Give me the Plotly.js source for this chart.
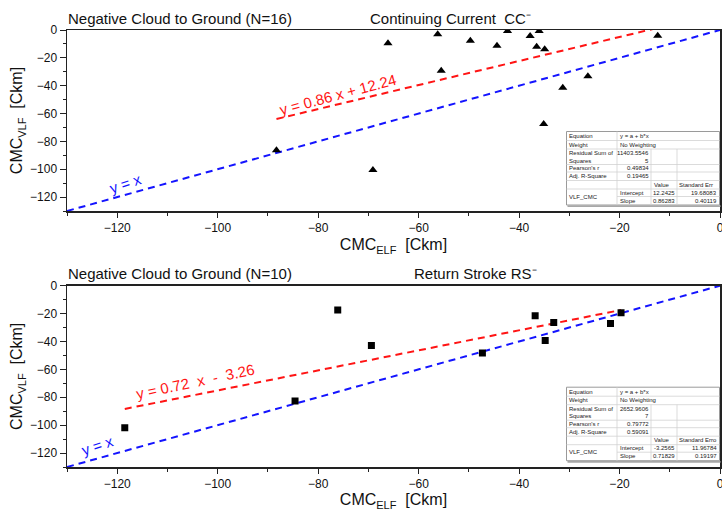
<!DOCTYPE html>
<html><head><meta charset="utf-8">
<script src="https://cdn.plot.ly/plotly-3.0.1.min.js"></script>
<style>html,body{margin:0;padding:0;background:#fff;} #chart{width:722px;height:511px;}</style>
</head><body><div id="chart"></div>
<script>
// ---------------- data ----------------
// Continuing current (N=16): CMC from ELF (x) vs CMC from VLF (y), Ckm
const ccElf = [-66.1, -56.2, -55.5, -49.7, -44.4, -42.3, -37.8, -36.0, -36.5, -34.9, -31.3, -26.3, -12.4, -35.1, -88.3, -69.1];
const ccVlf = [-9.6, -3.1, -29.3, -7.7, -11.3, -0.7, -4.3, -0.7, -12.0, -13.9, -41.5, -33.3, -4.1, -67.6, -86.3, -100.5];
// Return stroke (N=10)
const rsElf = [-76.1, -69.4, -47.3, -36.8, -34.8, -33.1, -21.8, -19.7, -118.5, -84.6];
const rsVlf = [-17.5, -42.9, -48.2, -21.6, -39.3, -26.3, -27.1, -19.4, -101.9, -82.7];
// linear fit parameters (from the fit tables)
const ccIntercept = 12.2425, ccSlope = 0.86283;
const rsIntercept = -3.2565, rsSlope = 0.71829;
// axis range shared by both panels (also the y = x reference line)
const axisRange = [-130, 0];
// text
const ccTitle = "Negative Cloud to Ground (N=16)";
const ccSubtitle = "Continuing Current\u00a0\u00a0CC\u207b";
const rsTitle = "Negative Cloud to Ground (N=10)";
const rsSubtitle = "Return Stroke RS\u207b";
const ccFitLabel = "y = 0.86 x + 12.24";
const rsFitLabel = "y =\u00a00.72\u00a0\u00a0x\u00a0\u00a0-\u00a0\u00a03.26";
const refLabel = "y = x";
const SUB = '<span style="font-size:11px;baseline-shift:-4px">';
const xTitle = "CMC" + SUB + "ELF</span>\u00a0\u00a0[Ckm]";
const yTitle = "CMC" + SUB + "VLF</span>\u00a0\u00a0[Ckm]";
// fit tables
const statNames = ["Equation", "Weight", "Residual Sum of", "Squares", "Pearson's r", "Adj. R-Square"];
const ccStats = ["y = a + b*x", "No Weighting", "11403.5546", "5", "0.49834", "0.19465"];
const rsStats = ["y = a + b*x", "No Weighting", "2652.9606", "7", "0.79772", "0.59091"];
const paramGroup = "VLF_CMC";
const paramNames = ["Intercept", "Slope"];
const ccHeads = ["Value", "Standard Err"];
const rsHeads = ["Value", "Standard Erro"];
const ccParamValue = ["12.2425", "0.86283"];
const ccParamErr = ["19.68083", "0.40119"];
const rsParamValue = ["-3.2565", "0.71829"];
const rsParamErr = ["11.96784", "0.19197"];

// ---------------- layout helpers ----------------
const FONT = "Liberation Sans, Arial, Helvetica, sans-serif";
const W = 722, H = 511, ML = 67, MR = 2, MT = 30, MB = 44;
const PW = W - ML - MR, PH = H - MT - MB;
const px = v => (v - ML) / PW;
const py = v => (H - MB - v) / PH;
const topBottomPx = 211, botTopPx = 285.7;
const RED = "rgb(255,20,20)", BLUE = "rgb(20,20,255)";
const DASH = "7px,5px";

function fitLine(xs, a, b) {
  const x0 = Math.min(...xs), x1 = Math.max(...xs);
  return {x: [x0, x1], y: [a + b * x0, a + b * x1]};
}

const ccFit = fitLine(ccElf, ccIntercept, ccSlope);
const rsFit = fitLine(rsElf, rsIntercept, rsSlope);

const traces = [
  {x: axisRange, y: axisRange, mode: "lines", line: {color: BLUE, width: 2, dash: DASH}, xaxis: "x", yaxis: "y", hoverinfo: "skip"},
  {x: ccFit.x, y: ccFit.y, mode: "lines", line: {color: RED, width: 2, dash: DASH}, xaxis: "x", yaxis: "y", hoverinfo: "skip"},
  {x: ccElf, y: ccVlf, mode: "markers", marker: {symbol: "triangle-up", size: 8, color: "#000"}, xaxis: "x", yaxis: "y"},
  {x: axisRange, y: axisRange, mode: "lines", line: {color: BLUE, width: 2, dash: DASH}, xaxis: "x2", yaxis: "y2", hoverinfo: "skip"},
  {x: rsFit.x, y: rsFit.y, mode: "lines", line: {color: RED, width: 2, dash: DASH}, xaxis: "x2", yaxis: "y2", hoverinfo: "skip"},
  {x: rsElf, y: rsVlf, mode: "markers", marker: {symbol: "square", size: 7, color: "#000"}, xaxis: "x2", yaxis: "y2"}
];

function axis(extra, len) {
  return Object.assign({
    range: axisRange, autorange: false, tickmode: "linear", tick0: 0, dtick: 20,
    ticks: "outside", ticklen: len, tickwidth: 1, tickcolor: "#222",
    minor: {ticks: "outside", ticklen: 3, dtick: 10, tick0: 0, tickcolor: "#222", tickwidth: 1},
    showline: true, linecolor: "#222", linewidth: 1.5, mirror: true,
    showgrid: false, zeroline: false, ticklabeloverflow: "allow",
    tickfont: {family: FONT, size: 12, color: "#111"}
  }, extra);
}

const shapes = [];
const annotations = [];

function txt(text, x, y, opts) {
  annotations.push(Object.assign({
    text: text, x: px(x), y: py(y), xref: "paper", yref: "paper",
    showarrow: false, xanchor: "left", yanchor: "middle",
    font: {family: FONT, size: 15, color: "#111"}
  }, opts || {}));
}

function hline(x0, x1, y, color, w) {
  shapes.push({type: "line", xref: "paper", yref: "paper", x0: px(x0), x1: px(x1), y0: py(y), y1: py(y), line: {color: color, width: w}});
}
function vline(x, y0, y1, color, w) {
  shapes.push({type: "line", xref: "paper", yref: "paper", x0: px(x), x1: px(x), y0: py(y0), y1: py(y1), line: {color: color, width: w}});
}

function fitTable(dy, stats, heads, vals, errs) {
  const X = [566.5, 617, 651, 677, 719.5];
  const Y = [131.5, 140.5, 149, 157, 164.5, 172, 180.5, 189, 196.5, 205].map(v => v + dy);
  const cy = i => (Y[i] + Y[i + 1]) / 2;
  shapes.push({type: "rect", xref: "paper", yref: "paper", x0: px(X[0]), x1: px(X[4]), y0: py(Y[0]), y1: py(Y[9]),
    fillcolor: "#fff", line: {color: "#9a9a9a", width: 1}});
  hline(X[0] + 1, X[4] + 1, Y[9] + 1.2, "#a8a8a8", 1.8);
  const g = "#d2d2d2";
  [1, 2, 4, 5, 6, 7].forEach(i => hline(X[0], X[4], Y[i], g, 0.8));
  hline(X[1], X[4], Y[8], g, 0.8);
  vline(X[1], Y[0], Y[9], g, 0.8);
  vline(X[2], Y[2], Y[9], g, 0.8);
  vline(X[3], Y[2], Y[9], g, 0.8);
  const f = {family: FONT, size: 6, color: "#222"};
  statNames.forEach((s, i) => txt(s, X[0] + 0.3, cy(i), {font: f}));
  txt(stats[0], X[1] + 0.5, cy(0), {font: f});
  txt(stats[1], X[1] + 0.5, cy(1), {font: f});
  for (let i = 2; i < 6; i++) txt(stats[i], X[2] - 0.3, cy(i), {font: f, xanchor: "right"});
  txt(heads[0], X[2] + 0.5, cy(6), {font: f});
  txt(heads[1], X[3] + 0.3, cy(6), {font: f});
  txt(paramGroup, X[0] + 0.5, Y[8], {font: f});
  paramNames.forEach((s, i) => {
    txt(s, X[1] + 0.5, cy(7 + i), {font: f});
    txt(vals[i], X[3] - 0.3, cy(7 + i), {font: f, xanchor: "right"});
    txt(errs[i], X[4] - 0.3, cy(7 + i), {font: f, xanchor: "right"});
  });
}

const dyBottom = botTopPx - MT;
fitTable(0, ccStats, ccHeads, ccParamValue, ccParamErr);
fitTable(dyBottom, rsStats, rsHeads, rsParamValue, rsParamErr);

// titles
txt(ccTitle, 66, 18);
txt(ccSubtitle, 368, 18);
txt(rsTitle, 66, 18 + dyBottom);
txt(rsSubtitle, 412, 18 + dyBottom);
// line labels
txt(ccFitLabel, 338, 95, {xanchor: "center", textangle: -15, font: {family: FONT, size: 15, color: RED}});
txt(refLabel, 125, 183, {xanchor: "center", textangle: -18, font: {family: FONT, size: 15, color: BLUE}});
txt(rsFitLabel, 195, 381, {xanchor: "center", textangle: -12, font: {family: FONT, size: 15, color: RED}});
txt(refLabel, 97, 445, {xanchor: "center", textangle: -18, font: {family: FONT, size: 15, color: BLUE}});

const titleFont = {family: FONT, size: 16, color: "#111"};
const layout = {
  width: W, height: H,
  margin: {l: ML, r: MR, t: MT, b: MB, pad: 0},
  showlegend: false,
  paper_bgcolor: "#fff", plot_bgcolor: "#fff",
  font: {family: FONT, color: "#111"},
  xaxis: axis({anchor: "y", domain: [0, 1], title: {text: xTitle, font: titleFont, standoff: 5}}, 5),
  yaxis: axis({anchor: "x", domain: [py(topBottomPx), 1], title: {text: yTitle, font: titleFont, standoff: 3}}, 6),
  xaxis2: axis({anchor: "y2", domain: [0, 1], title: {text: xTitle, font: titleFont, standoff: 5}}, 5),
  yaxis2: axis({anchor: "x2", domain: [0, py(botTopPx)], title: {text: yTitle, font: titleFont, standoff: 3}}, 6),
  shapes: shapes,
  annotations: annotations
};

Plotly.newPlot("chart", traces, layout, {displayModeBar: false, staticPlot: true});
</script>
</body></html>
